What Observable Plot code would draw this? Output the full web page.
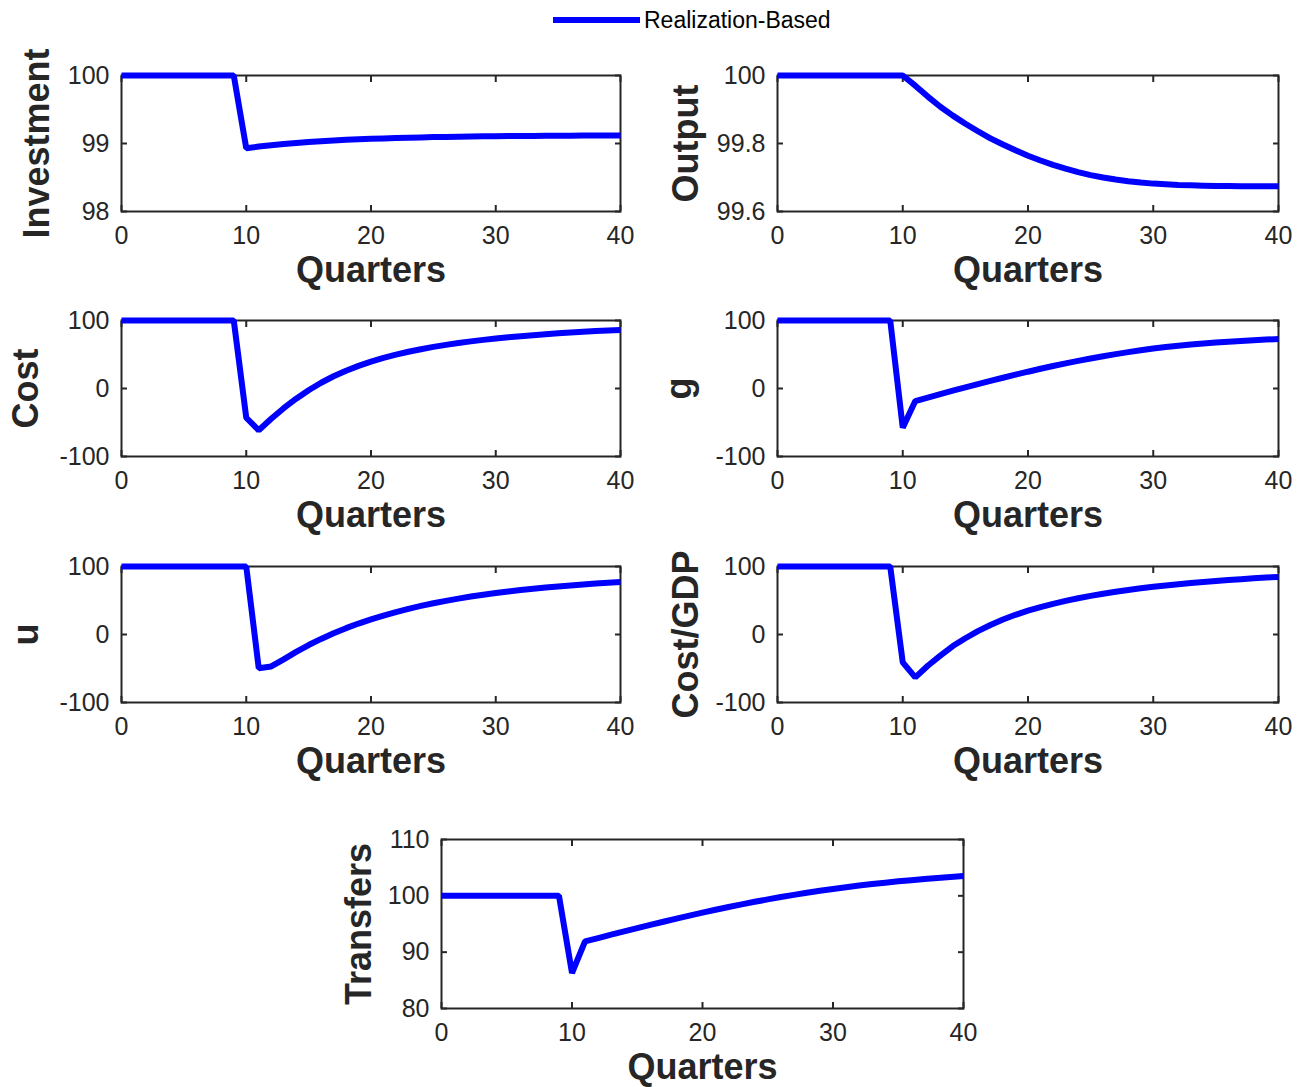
<!DOCTYPE html>
<html><head><meta charset="utf-8">
<script src="https://cdn.jsdelivr.net/npm/d3@7"></script>
<script src="https://cdn.jsdelivr.net/npm/@observablehq/plot@0.6"></script>
<style>
body{margin:0;background:#fff;font-family:"Liberation Sans",Arial,Helvetica,sans-serif;}
#root{position:relative;width:1298px;height:1087px;overflow:hidden;background:#fff;}
.panel{position:absolute;}
.panel svg{max-width:none !important;}
#legend{position:absolute;left:553px;top:5px;height:30px;display:flex;align-items:center;}
#legend .sw{display:inline-block;width:87px;height:6px;background:#0000ff;}
#legend .lt{margin-left:4px;font-size:23px;color:#000;white-space:nowrap;}
</style></head><body>
<div id="root"><div id="legend"><span class="sw"></span><span class="lt">Realization-Based</span></div></div>
<script>
const seriesName = "Realization-Based";
const quarters = [0,1,2,3,4,5,6,7,8,9,10,11,12,13,14,15,16,17,18,19,20,21,22,23,24,25,26,27,28,29,30,31,32,33,34,35,36,37,38,39,40];
const xTicks = [0,10,20,30,40];
const xLabel = "Quarters";

const investment = [100,100,100,100,100,100,100,100,100,100,
  98.93,98.955,98.975,98.993,99.008,99.022,99.034,99.045,99.054,99.062,
  99.069,99.075,99.081,99.086,99.09,99.094,99.097,99.1,99.103,99.105,
  99.107,99.109,99.111,99.112,99.113,99.114,99.115,99.116,99.117,99.118,99.118];
const output = [100,100,100,100,100,100,100,100,100,100,100,
  99.97,99.938,99.908,99.882,99.858,99.836,99.815,99.797,99.78,99.764,
  99.75,99.737,99.726,99.716,99.707,99.7,99.694,99.689,99.685,99.682,
  99.68,99.678,99.677,99.676,99.675,99.675,99.674,99.674,99.674,99.674];
const cost = [100,100,100,100,100,100,100,100,100,100,
  -43,-61.5,-44.5,-29,-15,-2.5,8.5,18,26.2,33.3,
  39.5,45,49.8,54,57.8,61.2,64.2,66.9,69.3,71.5,
  73.5,75.3,76.9,78.4,79.8,81.1,82.3,83.4,84.4,85.3,86.1];
const g = [100,100,100,100,100,100,100,100,100,100,
  -57.6,-18.5,-13.3,-8.2,-3.2,1.7,6.5,11.2,15.8,20.3,
  24.7,29,33.1,37,40.7,44.2,47.5,50.6,53.5,56.2,
  58.7,60.9,62.9,64.7,66.3,67.7,68.9,70,71,71.9,72.7];
const u = [100,100,100,100,100,100,100,100,100,100,100,
  -49.5,-47,-36.5,-25.5,-15.5,-6.5,1.8,9.3,16.1,22.3,
  27.9,33,37.7,42,45.9,49.5,52.8,55.8,58.5,61,
  63.3,65.4,67.3,69.1,70.7,72.2,73.6,74.9,76.1,77.2];
const costGdp = [100,100,100,100,100,100,100,100,100,100,
  -41,-63,-46,-31,-17,-5.5,5,14,22,29,
  35,40.3,45.1,49.4,53.3,56.8,60,62.9,65.5,67.9,
  70.1,72.1,73.9,75.6,77.2,78.7,80.1,81.4,82.6,83.7,84.7];
const transfers = [100,100,100,100,100,100,100,100,100,100,
  86.3,91.9,92.5,93.1,93.69,94.27,94.84,95.4,95.95,96.49,
  97.02,97.53,98.02,98.49,98.94,99.37,99.78,100.17,100.54,100.89,
  101.22,101.53,101.82,102.09,102.34,102.57,102.78,102.98,103.17,103.35,103.52];

const ticksInv = [98,99,100];
const ticksOut = [99.6,99.8,100];
const ticksPct = [-100,0,100];
const ticksTr = [80,90,100,110];

const root = document.getElementById("root");
const axisColor = "#262626";
const fmt = d => String(d);

function panel(values, label, yDomain, yTicks, box, labelDx) {
  const [fl, ft, fr, fb] = box;
  const mL = 125, mR = 25, mT = 25, mB = 95;
  const data = quarters.map((q, i) => ({q, v: values[i], s: seriesName}));
  const chart = Plot.plot({
    width: fr - fl + mL + mR,
    height: fb - ft + mT + mB,
    marginLeft: mL, marginRight: mR, marginTop: mT, marginBottom: mB,
    style: {background: "transparent", overflow: "visible", maxWidth: "none", fontFamily: "'Liberation Sans', Arial, Helvetica, sans-serif", fontSize: "25px", color: axisColor},
    x: {domain: [0, 40]},
    y: {domain: yDomain},
    marks: [
      Plot.frame({stroke: axisColor, strokeWidth: 2}),
      Plot.axisX({ticks: xTicks, anchor: "bottom", tickSize: -6, tickPadding: 21, tickFormat: fmt, label: null, strokeWidth: 2}),
      Plot.axisX({ticks: xTicks, anchor: "top", tickSize: -6, tickFormat: () => "", label: null, strokeWidth: 2}),
      Plot.axisY({ticks: yTicks, anchor: "left", tickSize: -6, tickPadding: 18, tickFormat: fmt, label: null, strokeWidth: 2}),
      Plot.axisY({ticks: yTicks, anchor: "right", tickSize: -6, tickFormat: () => "", label: null, strokeWidth: 2}),
      Plot.lineY(data, {x: "q", y: "v", stroke: "#0000ff", strokeWidth: 6, strokeLinejoin: "miter", strokeLinecap: "butt"}),
      Plot.text([xLabel], {frameAnchor: "bottom", dy: 59, lineAnchor: "middle", textAnchor: "middle", fontSize: 36, fontWeight: "bold", fill: axisColor}),
      Plot.text([label], {frameAnchor: "left", dx: labelDx, rotate: -90, lineAnchor: "bottom", textAnchor: "middle", fontSize: 36, fontWeight: "bold", fill: axisColor})
    ]
  });
  const div = document.createElement("div");
  div.className = "panel";
  div.style.left = (fl - mL) + "px";
  div.style.top = (ft - mT) + "px";
  div.appendChild(chart);
  root.appendChild(div);
}

panel(investment, "Investment", [98, 100], ticksInv, [121, 75, 620, 211], -73);
panel(output, "Output", [99.6, 100], ticksOut, [777, 75, 1278, 211], -80);
panel(cost, "Cost", [-100, 100], ticksPct, [121, 320, 620, 456], -84);
panel(g, "g", [-100, 100], ticksPct, [777, 320, 1278, 456], -87);
panel(u, "u", [-100, 100], ticksPct, [121, 566, 620, 702], -84);
panel(costGdp, "Cost/GDP", [-100, 100], ticksPct, [777, 566, 1278, 702], -80);
panel(transfers, "Transfers", [80, 110], ticksTr, [441, 839, 963, 1008], -71);
</script>
</body></html>
